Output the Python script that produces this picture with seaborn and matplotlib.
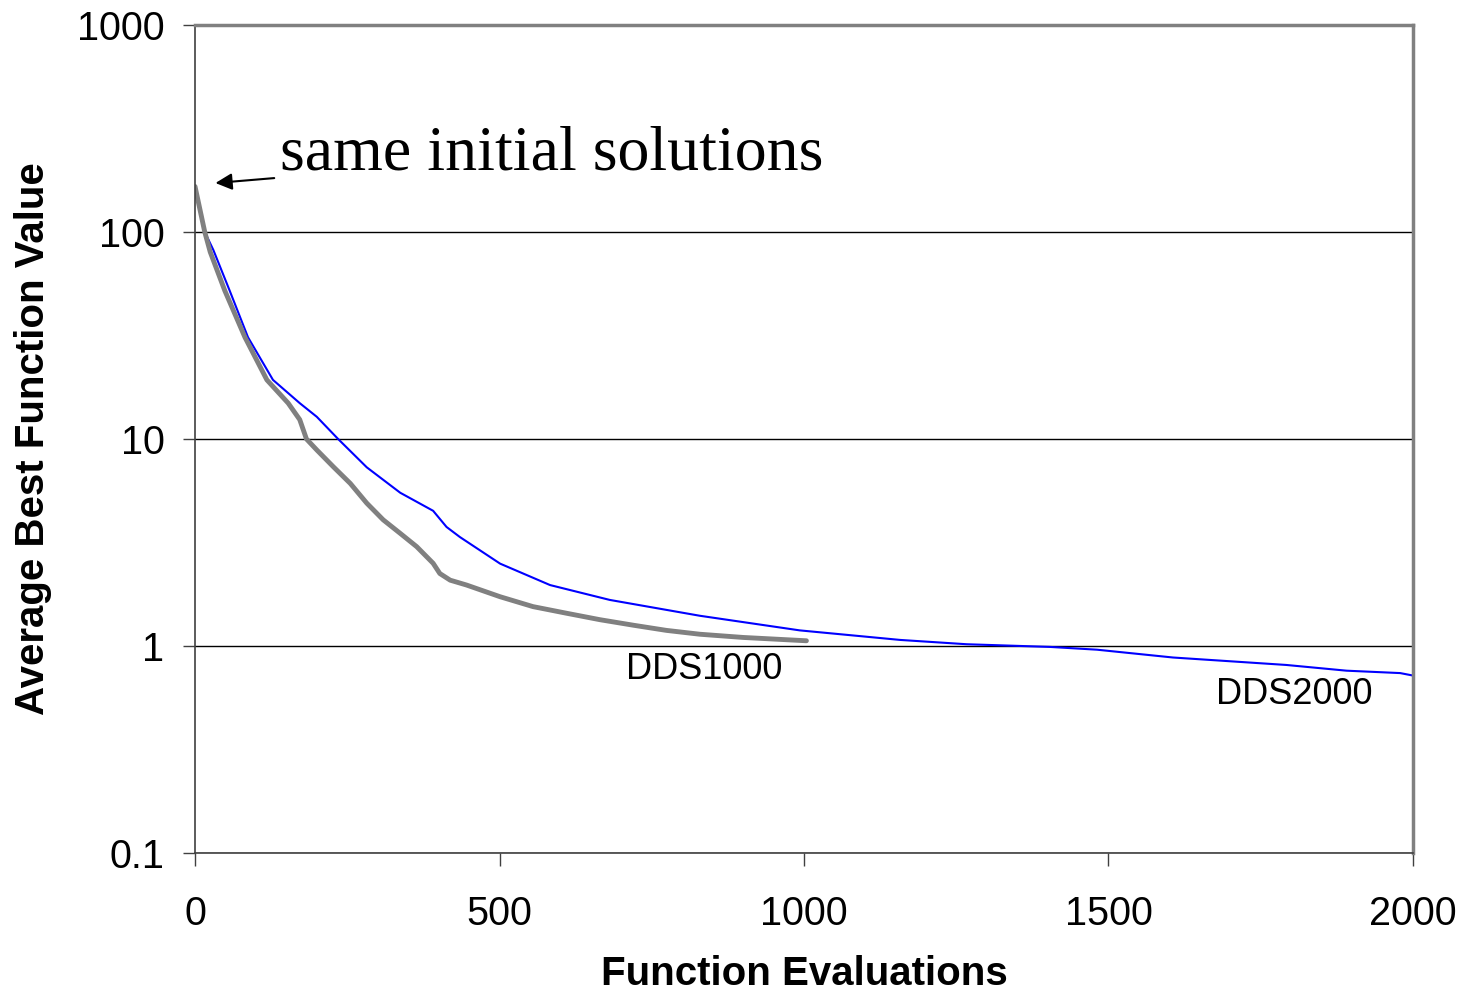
import pandas as pd
import matplotlib.pyplot as plt
import seaborn as sns

# DDS2000 curve
dds2000_evals = [0, 16, 30, 57, 87, 128, 172, 200, 235, 282, 337, 391, 413, 435, 501, 583,
                 681, 829, 993, 1158, 1267, 1404, 1481, 1606, 1792, 1891, 1979, 2000]
dds2000_vals = [166, 100, 82, 52, 31, 19.3, 14.9, 12.8, 10.0, 7.3, 5.5, 4.5, 3.76, 3.36, 2.5, 1.97,
                1.67, 1.40, 1.19, 1.07, 1.02, 0.99, 0.96, 0.88, 0.81, 0.76, 0.74, 0.72]

# DDS1000 curve
dds1000_evals = [0, 16, 25, 49, 82, 118, 153, 172, 183, 200, 227, 255, 282, 309, 337, 364,
                 391, 402, 419, 446, 501, 555, 610, 665, 720, 774, 829, 900, 1004]
dds1000_vals = [166, 100, 80, 52, 31, 19.3, 14.9, 12.4, 10, 8.85, 7.35, 6.1, 4.9, 4.07, 3.5, 3.02,
                2.51, 2.24, 2.08, 1.97, 1.73, 1.55, 1.44, 1.34, 1.26, 1.19, 1.14, 1.10, 1.06]

df2000 = pd.DataFrame({'evals': dds2000_evals, 'value': dds2000_vals})
df1000 = pd.DataFrame({'evals': dds1000_evals, 'value': dds1000_vals})

sns.set_style('white')
plt.rcParams['font.family'] = ['Liberation Sans', 'DejaVu Sans']
plt.rcParams['text.color'] = 'black'
plt.rcParams['axes.labelcolor'] = 'black'
plt.rcParams['xtick.color'] = 'black'
plt.rcParams['ytick.color'] = 'black'

fig = plt.figure(figsize=(14.63, 9.92), dpi=100)
ax = fig.add_axes([0.1333, 0.1401, 0.8325, 0.8347])

sns.lineplot(x='evals', y='value', data=df2000, color='#0000ff', linewidth=1.5, ax=ax)
sns.lineplot(x='evals', y='value', data=df1000, color='#808080', linewidth=3.5, ax=ax)

ax.set_yscale('log')
ax.set_xlim(0, 2000)
ax.set_ylim(0.1, 1000)
ax.set_xticks([0, 500, 1000, 1500, 2000])
ax.set_xticklabels(['0', '500', '1000', '1500', '2000'])
ax.set_yticks([0.1, 1, 10, 100, 1000])
ax.set_yticklabels(['0.1', '1', '10', '100', '1000'])
ax.minorticks_off()
ax.yaxis.grid(True, color='black', linewidth=1)
ax.xaxis.grid(False)

ax.tick_params(axis='both', direction='out', length=9, width=1, color='#404040',
               labelsize=28.5, labelcolor='black', left=True, bottom=True)
ax.tick_params(axis='y', pad=13)
ax.tick_params(axis='x', pad=21)

for side in ['left', 'bottom']:
    ax.spines[side].set_color('#404040')
    ax.spines[side].set_linewidth(1.2)
for side in ['top', 'right']:
    ax.spines[side].set_color('#808080')
    ax.spines[side].set_linewidth(2.5)

ax.set_xlabel('Function Evaluations', fontsize=29, fontweight='bold', labelpad=16)
ax.set_ylabel('Average Best Function Value', fontsize=29, fontweight='bold', labelpad=18)

ax.annotate('same initial solutions', xy=(29, 172), xytext=(140, 236),
            fontsize=46, family=['Liberation Serif', 'DejaVu Serif'], va='center', ha='left',
            arrowprops=dict(arrowstyle='-|>', color='black', lw=1.5, mutation_scale=25))

ax.text(836, 0.766, 'DDS1000', fontsize=26, ha='center', va='center')
ax.text(1805, 0.58, 'DDS2000', fontsize=26, ha='center', va='center')

plt.savefig('out.png', dpi=100)
